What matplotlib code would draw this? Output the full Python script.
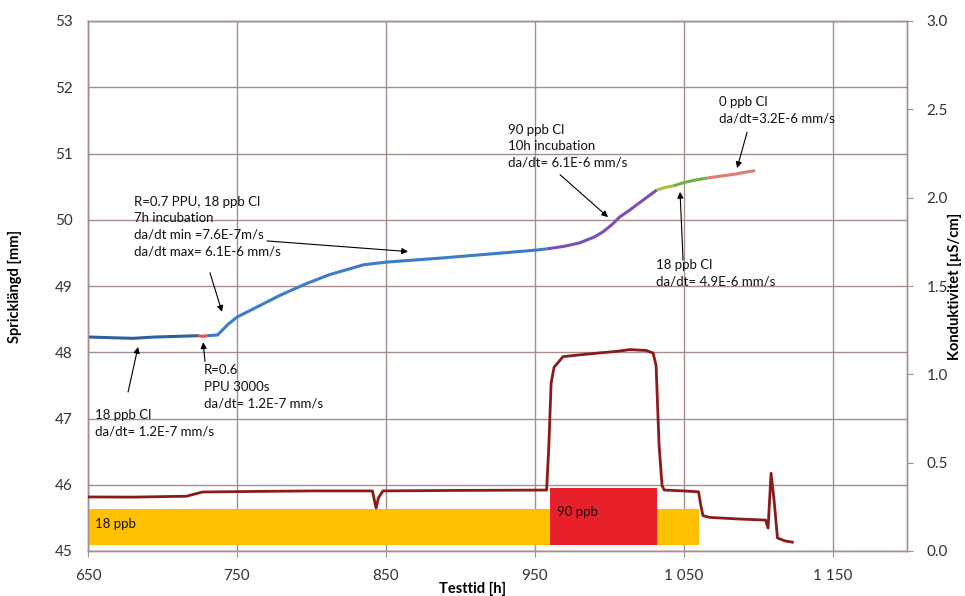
import matplotlib
matplotlib.use("Agg")
import matplotlib.pyplot as plt
from matplotlib.ticker import FuncFormatter, MultipleLocator

plt.rcParams["font.family"] = ["Lato", "DejaVu Sans"]

# Crack length [mm] vs test time [h], split into coloured segments
seg_base_t = [650, 665, 680, 695, 710, 724]
seg_base_a = [48.23, 48.22, 48.21, 48.23, 48.24, 48.25]
seg_ppu_t = [724, 727, 730]
seg_ppu_a = [48.25, 48.24, 48.25]
seg_inc_t = [730, 737, 744, 750, 765, 779, 796, 812, 835, 850, 868, 886, 913, 950, 958]
seg_inc_a = [48.25, 48.26, 48.42, 48.53, 48.70, 48.86, 49.03, 49.17, 49.32, 49.36, 49.39, 49.42, 49.47, 49.54, 49.56]
seg_90_t = [958, 970, 980, 990, 996, 1002, 1007, 1014, 1020, 1026, 1032]
seg_90_a = [49.56, 49.60, 49.65, 49.74, 49.82, 49.93, 50.04, 50.15, 50.25, 50.35, 50.45]
seg_18y_t = [1032, 1038, 1043]
seg_18y_a = [50.45, 50.49, 50.51]
seg_18g_t = [1043, 1050, 1058, 1066]
seg_18g_a = [50.51, 50.56, 50.60, 50.63]
seg_0_t = [1066, 1075, 1085, 1092, 1098]
seg_0_a = [50.63, 50.66, 50.69, 50.72, 50.74]

# Conductivity [uS/cm]
cond_t = [650, 680, 716, 727, 760, 800, 841, 842.5, 843.5, 845, 848, 900, 958,
          959.5, 961, 963, 969, 980, 992, 1005, 1014, 1025, 1029.5, 1031.5,
          1033.5, 1035.5, 1037, 1050, 1060, 1061.5, 1063, 1067.7, 1085, 1105,
          1106.7, 1108.7, 1110.7, 1113, 1118, 1123]
cond_v = [0.306, 0.305, 0.31, 0.334, 0.337, 0.34, 0.34, 0.28, 0.243, 0.30, 0.34, 0.343, 0.345,
          0.60, 0.95, 1.04, 1.10, 1.11, 1.12, 1.13, 1.14, 1.135, 1.12, 1.05,
          0.60, 0.37, 0.345, 0.34, 0.335, 0.26, 0.20, 0.19, 0.182, 0.175,
          0.13, 0.44, 0.29, 0.074, 0.057, 0.05]

# Chloride dosing periods (bars on the conductivity axis)
dose_labels = ["18 ppb", "90 ppb"]
dose_start = [650, 960]
dose_end = [1060, 1032]
dose_top = [0.24, 0.357]
dose_bottom = 0.035

grid_c = "#a38f8b"
fig = plt.figure(figsize=(9.65, 5.96), dpi=100)
ax = fig.add_axes([88 / 965, 1 - 551 / 596, 819 / 965, 530 / 596])
ax2 = ax.twinx()

ax.set_xlim(650, 1200)
ax.set_ylim(45, 53)
ax2.set_ylim(0, 3.0)

# dosing bars
dose_colors = ["#ffc000", "#e8202a"]
for lab, s, e, top, c in zip(dose_labels, dose_start, dose_end, dose_top, dose_colors):
    ax2.bar(s, top - dose_bottom, width=e - s, bottom=dose_bottom, align="edge",
            color=c, edgecolor="none", zorder=2)
    ax2.text(s + 4.7, dose_bottom + (top - dose_bottom) * 0.58, lab,
             fontsize=9.5, va="center", ha="left", color="#111111", zorder=3)

ax2.plot(cond_t, cond_v, color="#8b1a1a", lw=2.0, zorder=4)

segs = [
    (seg_base_t, seg_base_a, "#2f5f9f"),
    (seg_ppu_t, seg_ppu_a, "#e05050"),
    (seg_inc_t, seg_inc_a, "#3c7ccb"),
    (seg_90_t, seg_90_a, "#7b4fb5"),
    (seg_18y_t, seg_18y_a, "#a8c040"),
    (seg_18g_t, seg_18g_a, "#72b043"),
    (seg_0_t, seg_0_a, "#e07b70"),
]
for t, a, c in segs:
    ax.plot(t, a, color=c, lw=2.2, zorder=5, solid_capstyle="butt")

# annotations: (text, text x, text top y, arrow start, arrow tip)
notes = [
    ("18 ppb Cl\nda/dt= 1.2E-7 mm/s", 654.7, 47.14, (676.9, 47.40), (683.6, 48.08)),
    ("R=0.6\nPPU 3000s\nda/dt= 1.2E-7 mm/s", 727.9, 47.82, (728.6, 47.86), (727.3, 48.15)),
    ("R=0.7 PPU, 18 ppb Cl\n7h incubation\nda/dt min =7.6E-7m/s\nda/dt max= 6.1E-6 mm/s",
     680.9, 50.36, (770.2, 49.68), (864.9, 49.52)),
    ("90 ppb Cl\n10h incubation\nda/dt= 6.1E-6 mm/s", 932.0, 51.45, (967.0, 50.68), (999.2, 50.04)),
    ("0 ppb Cl\nda/dt=3.2E-6 mm/s", 1073.8, 51.87, (1092.6, 51.32), (1085.9, 50.78)),
    ("18 ppb Cl\nda/dt= 4.9E-6 mm/s", 1031.5, 49.41, (1049.6, 49.39), (1047.6, 50.42)),
]
arrow_kw = dict(arrowstyle="-|>", lw=0.8, color="black", mutation_scale=9,
                shrinkA=0, shrinkB=0)
for txt, tx, ty, start, tip in notes:
    ax.text(tx, ty, txt, fontsize=9.5, ha="left", va="top", linespacing=1.45,
            color="#111111", zorder=6)
    ax.annotate("", xy=tip, xytext=start, zorder=6, arrowprops=arrow_kw)
# second arrow from the incubation note
ax.annotate("", xy=(740.0, 48.61), xytext=(731.9, 49.20), zorder=6, arrowprops=arrow_kw)

# axes styling
ax.set_xticks([650, 750, 850, 950, 1050, 1150])
ax.xaxis.set_major_formatter(FuncFormatter(lambda v, p: f"{int(v):,}".replace(",", " ")))
ax.yaxis.set_major_locator(MultipleLocator(1))
ax2.yaxis.set_major_locator(MultipleLocator(0.5))
ax2.yaxis.set_major_formatter(FuncFormatter(lambda v, p: f"{v:.1f}"))
ax.grid(True, color=grid_c, lw=1.0)
ax.set_axisbelow(True)

for a in (ax, ax2):
    for sp in a.spines.values():
        sp.set_color(grid_c)
        sp.set_linewidth(1.0)
ax.tick_params(axis="y", length=0, pad=11, labelsize=11, colors="#333333")
ax.tick_params(axis="x", length=4, color=grid_c, pad=9, labelsize=11, labelcolor="#333333")
ax2.tick_params(axis="y", length=4, color=grid_c, pad=10, labelsize=11, labelcolor="#333333")

ax.set_ylabel("Spricklängd [mm]", fontsize=10.5, fontweight="bold")
ax.yaxis.set_label_coords(-0.0806, 0.5)
ax2.set_ylabel("Konduktivitet [µS/cm]", fontsize=10.5, fontweight="bold")
ax2.yaxis.set_label_coords(1.0505, 0.5)
ax.set_xlabel("Testtid [h]", fontsize=10.5, fontweight="bold")
ax.xaxis.set_label_coords(0.47, -0.072)
ax.xaxis.label.set_va("center")

fig.savefig("out.png", dpi=100)
